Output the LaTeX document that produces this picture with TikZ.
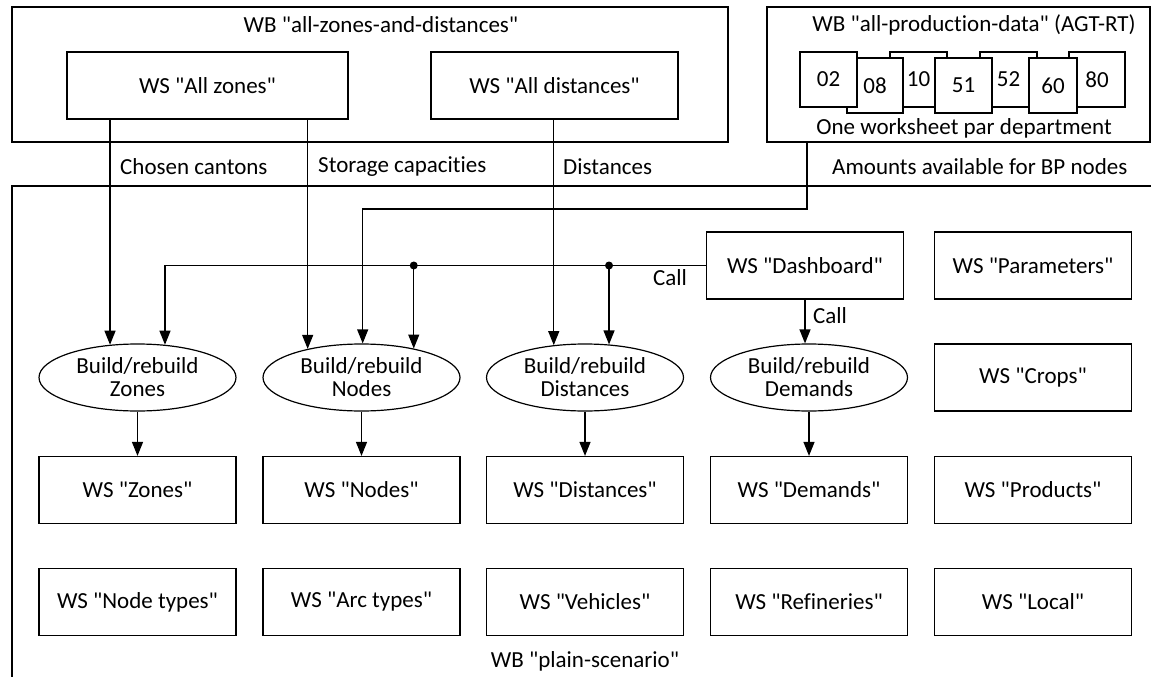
\documentclass[tikz,border=0pt]{standalone}
\usepackage{fontspec}
\setmainfont{Carlito}[Ligatures={TeXOff,CommonOff}]
\usetikzlibrary{shapes.geometric,arrows.meta}
\begin{document}
\begin{tikzpicture}[x=1pt,y=-1pt,
  every node/.style={font=\fontsize{23}{23}\selectfont},
  ln/.style={line width=1.2pt},
  box/.style={draw, line width=1.2pt, minimum width=197pt, minimum height=67pt, inner sep=0pt},
  ell/.style={draw, ellipse, line width=1.2pt, minimum width=197pt, minimum height=67pt, inner sep=0pt, align=center},
  sheet/.style={draw, fill=white, line width=1.2pt, minimum width=57pt, minimum height=55pt, inner sep=0pt},
  arr/.style={line width=1.2pt, -{Triangle[width=11pt,length=14pt]}},
  lbl/.style={inner sep=0pt, anchor=west},
  dot/.style={circle, fill=black, inner sep=0pt, minimum size=8pt}
]
\useasboundingbox (0,0) rectangle (1151,677);

% top-left workbook
\node[draw, ln, minimum width=716pt, minimum height=135pt, inner sep=0pt] (wbA) at (370,74.5) {};
\node (wbAt) at (381,25) {WB "all-zones-and-distances"};
\node[box, minimum width=281pt] (allz) at (207.5,85.5) {WS "All zones"};
\node[box, minimum width=247pt] (alld) at (554.5,85.5) {WS "All distances"};

% top-right workbook
\node[draw, ln, minimum width=383pt, minimum height=135pt, inner sep=0pt] (wbB) at (958.5,74.5) {};
\node (wbBt) at (974,25) {WB "all-production-data" (AGT-RT)};
\node[sheet] (s10) at (918.5,79.5) {10};
\node[sheet] (s52) at (1008.5,79.5) {52};
\node[sheet, minimum width=56pt] (s80) at (1097,79.5) {80};
\node[sheet, minimum width=56pt] (s08) at (875,85.5) {08};
\node[sheet] (s51) at (963.5,85.5) {51};
\node[sheet, minimum width=48pt] (s60) at (1053,85.5) {60};
\node[sheet] (s02) at (828.5,79.5) {02};
\node (wbBs) at (964,128) {One worksheet par department};

% labels between
\node[lbl] (lcc) at (120,167) {Chosen cantons};
\node[lbl] (lsc) at (318,167) {Storage capacities};
\node[lbl] (ldi) at (563,167) {Distances};
\node[lbl] (lam) at (832,167) {Amounts available for BP nodes};

% plain scenario container
\draw[ln] (12,677) -- (12,186) -- (1151,186);
\node (wbC) at (585,661) {WB "plain-scenario"};

% row 1
\node[box] (dash) at (805,265.5) {WS "Dashboard"};
\node[box] (par) at (1033,265.5) {WS "Parameters"};
% row 2
\node[ell] (zE) at (137.5,377.5) {Build/rebuild\\Zones};
\node[ell] (nE) at (361.5,377.5) {Build/rebuild\\Nodes};
\node[ell] (dE) at (585,377.5) {Build/rebuild\\Distances};
\node[ell] (mE) at (809,377.5) {Build/rebuild\\Demands};
\node[box] (crops) at (1033,377.5) {WS "Crops"};
% row 3
\node[box] (wsz) at (137.5,490) {WS "Zones"};
\node[box] (wsn) at (361.5,490) {WS "Nodes"};
\node[box] (wsd) at (585,490) {WS "Distances"};
\node[box] (wsm) at (809,490) {WS "Demands"};
\node[box] (wsp) at (1033,490) {WS "Products"};
% row 4
\node[box] (wsnt) at (137.5,602) {WS "Node types"};
\node[box] (wsat) at (361.5,602) {WS "Arc types"};
\node[box] (wsv) at (585,602) {WS "Vehicles"};
\node[box] (wsr) at (809,602) {WS "Refineries"};
\node[box] (wsl) at (1033,602) {WS "Local"};

% connectors from source workbooks
\draw[arr] (allz.south -| zE.130) -- (zE.130);
\draw[arr] (allz.south -| nE.152) -- (nE.152);
\draw[arr] (alld.south -| dE.134) -- (dE.134);
\coordinate (agt) at (807,209);
\draw[arr] (wbB.south -| agt) -- (agt) -- (agt -| nE.88) -- (nE.88);

% calls from dashboard
\draw[arr] (dash.west) -- (dash.west -| zE.50) -- (zE.50);
\draw[arr] (dash.west -| nE.29) node[dot] (d1) {} -- (nE.29);
\draw[arr] (dash.west -| dE.54) node[dot] (d2) {} -- (dE.54);
\node (call1) at (670,278) {Call};
\draw[arr] (dash.south) -- (dash.south |- mE.north);
\node (call2) at (830,316) {Call};

% builds to sheets
\draw[arr] (zE.south) -- (wsz.north);
\draw[arr] (nE.south) -- (wsn.north);
\draw[arr] (dE.south) -- (wsd.north);
\draw[arr] (mE.south) -- (wsm.north);
\end{tikzpicture}
\end{document}
